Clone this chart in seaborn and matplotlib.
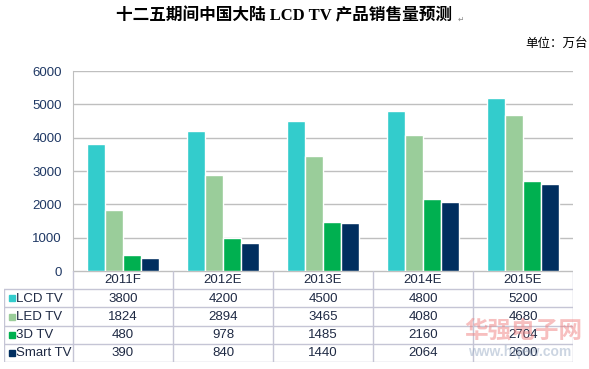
import pandas as pd
import matplotlib
matplotlib.use("Agg")
import matplotlib.pyplot as plt
import seaborn as sns

# data (unit: 10k sets)
years = ['2011F', '2012E', '2013E', '2014E', '2015E']
series = ['LCD TV', 'LED TV', '3D TV', 'Smart TV']
lcd_tv = [3800, 4200, 4500, 4800, 5200]
led_tv = [1824, 2894, 3465, 4080, 4680]
tv_3d = [480, 978, 1485, 2160, 2704]
smart_tv = [390, 840, 1440, 2064, 2600]
colors = ['#33CCCC', '#9ACD9A', '#00B050', '#002E5F']

values = [lcd_tv, led_tv, tv_3d, smart_tv]
df = pd.DataFrame({
    'year': years * len(series),
    'series': [s for s in series for _ in years],
    'value': [v for vals in values for v in vals],
})

sns.set_style("white")
plt.rcParams['font.family'] = ['Liberation Sans', 'Noto Sans CJK SC', 'DejaVu Sans']

W, H = 589, 369
fig = plt.figure(figsize=(W / 100, H / 100), dpi=100)

# bar area: x 73..573 px, y 71..271 px
ax = fig.add_axes([73 / W, 1 - 271 / H, 500 / W, 200 / H])
sns.barplot(data=df, x='year', y='value', hue='series', order=years,
            hue_order=series, palette=colors, width=0.72, legend=False,
            saturation=1, ax=ax)
ax.set_xlim(-0.5, 4.5)
ax.set_ylim(0, 6000)
ax.set_yticks(range(0, 6001, 1000))
ax.yaxis.grid(True, color='#BFBFBF', lw=1)
ax.set_axisbelow(True)
ax.set_xticks([])
ax.set_xlabel('')
ax.set_ylabel('')
ax.tick_params(axis='y', length=0, pad=8, labelsize=9.5, labelcolor='#1F3864')
for side in ['top', 'right', 'bottom']:
    ax.spines[side].set_visible(False)
ax.spines['left'].set_color('#BFBFBF')

# data table under the bars: x 4..573 px, y 271..362 px
lab_w = 69 / 100  # label column width in category units
tx = fig.add_axes([4 / W, 1 - 362 / H, 569 / W, 91 / H])
tx.set_xlim(-0.5 - lab_w, 4.5)
tx.set_ylim(5, 0)
tx.axis('off')
line_c = '#C5C5D5'
tx.plot([-0.5, 4.5], [0, 0], color='#BFBFBF', lw=1)
for r in range(1, 6):
    tx.plot([-0.5 - lab_w, 4.5], [r, r], color=line_c, lw=1)
tx.plot([-0.5 - lab_w] * 2, [1, 5], color=line_c, lw=1)
for i in range(6):
    tx.plot([i - 0.5] * 2, [0, 5], color=line_c, lw=1)

txt_c = '#1F2A44'
for i, y in enumerate(years):
    tx.text(i, 0.52, y, ha='center', va='center', fontsize=9.5, color=txt_c)
for r, (name, vals, c) in enumerate(zip(series, values, colors), start=1):
    tx.plot(-0.5 - lab_w + 0.08, r + 0.5, marker='s', ms=4.5, color=c, mec=c)
    tx.text(-0.5 - lab_w + 0.125, r + 0.52, name, ha='left', va='center',
            fontsize=9.5, color=txt_c)
    for i, v in enumerate(vals):
        tx.text(i, r + 0.52, str(v), ha='center', va='center', fontsize=9.5,
                color=txt_c)

# title and unit
fig.text(284 / W, 1 - 16 / H, '十二五期间中国大陆 LCD TV 产品销售量预测',
         ha='center', va='center', fontsize=12, fontweight='bold',
         family=['Liberation Serif', 'Noto Sans CJK SC', 'DejaVu Sans'], color='black')
fig.text(458 / W, 1 - 19 / H, '↵', ha='left', va='center', fontsize=5.5,
         color='#888888', family=['DejaVu Sans'])
fig.text(588 / W, 1 - 43 / H, '单位：万台', ha='right', va='center', fontsize=9,
         family=['Noto Sans CJK SC'], color='black')

# faint watermark
fig.text(523 / W, 1 - 331 / H, '华强电子网', ha='center', va='center', fontsize=17,
         fontweight='bold', family=['Noto Sans CJK SC'], color='#F08080', alpha=0.5)
fig.text(520 / W, 1 - 352 / H, 'www.hqew.com', ha='center', va='center', fontsize=10,
         fontweight='bold', color='#8FA3BF', alpha=0.45)

fig.savefig('out.png', dpi=100)
